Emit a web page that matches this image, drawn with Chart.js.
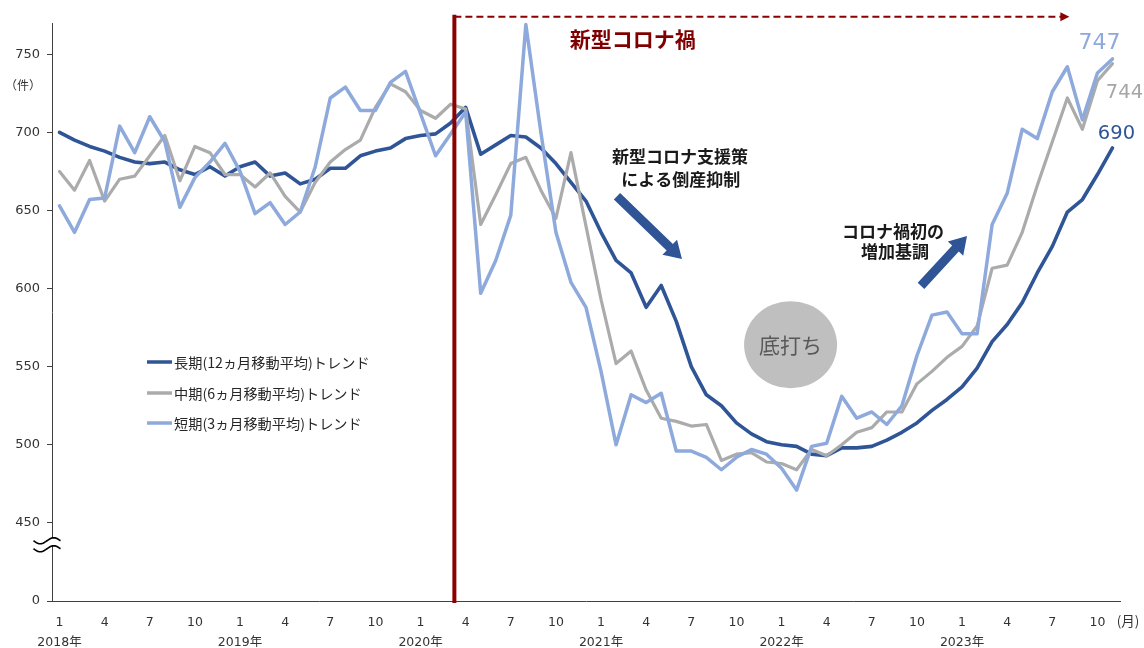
<!DOCTYPE html>
<html><head><meta charset="utf-8">
<script src="https://cdn.jsdelivr.net/npm/chart.js@4.4.0/dist/chart.umd.min.js"></script>
<style>html,body{margin:0;padding:0;background:#fff}#wrap{width:1144px;height:648px;position:relative}</style>
</head><body><div id="wrap"><canvas id="c" width="1144" height="648"></canvas></div>
<script>
// ---- categories: months from 2018-01 to 2023-11 ----
const firstYear = 2018;
const monthCount = 71;
const months = [];
for (let i = 0; i < monthCount; i++) {
  const yr = firstYear + Math.floor(i / 12), m = (i % 12) + 1;
  months.push(yr + '-' + String(m).padStart(2, '0'));
}
const shownMonths = [1, 4, 7, 10];

// ---- series values (件) ----
const longTrend = [700,695,691,688,684,681,680,681,676,673,678,672,678,681,672,674,667,670,677,677,685,688,690,696,698,699,706,716,686,692,698,697,690,680,668,656,636,618,610,588,602,579,550,532,525,514,507,502,500,499,494,493,498,498,499,503,508,514,522,529,537,549,566,577,591,610,627,649,657,673,690];
const midTrend = [675,663,682,656,670,672,685,698,669,691,687,673,673,665,674,659,649,668,681,689,695,716,731,726,714,709,718,715,641,660,680,684,663,645,687,640,593,552,560,535,517,515,512,513,490,494,495,489,488,484,497,493,500,508,511,521,521,539,547,556,563,576,613,615,636,666,694,722,702,733,744];
const shortTrend = [653,636,657,658,704,687,710,694,652,671,681,693,675,648,655,641,649,678,722,729,714,714,732,739,712,685,699,713,597,618,647,769,700,636,604,588,547,500,532,527,533,496,496,492,484,492,497,494,485,471,499,501,531,517,521,513,525,557,583,585,571,571,641,661,702,696,726,742,708,738,747];

const seriesNames = ['長期(12ヵ月移動平均)トレンド', '中期(6ヵ月移動平均)トレンド', '短期(3ヵ月移動平均)トレンド'];
const seriesColors = ['#2F5597', '#ABABAB', '#8EA9DB'];
const endLabels = ['690', '744', '747'];

// ---- y axis (broken: 0 is drawn one step below 450) ----
const yTickValues = [400, 450, 500, 550, 600, 650, 700, 750];
const yTickLabels = ['0', '450', '500', '550', '600', '650', '700', '750'];
const yMin = 400, yMax = 770;

// ---- annotations (in month-index / value coordinates) ----
const covidLineAt = 26.25;
const covidArrowEnd = 67.0;
const covidTop = 774;
const covidLabel = '新型コロナ禍';
const supportText = ['新型コロナ支援策', 'による倒産抑制'];
const riseText = ['コロナ禍初の', '増加基調'];
const bottomText = '底打ち';

const FONT_NUM = "'DejaVu Sans', 'Noto Sans CJK JP', sans-serif";
const FONT_JP = "'Noto Sans CJK JP', 'Noto Sans', sans-serif";

function blockArrow(ctx, x1, y1, x2, y2, shaft, headW, headL, color) {
  const a = Math.atan2(y2 - y1, x2 - x1);
  const len = Math.hypot(x2 - x1, y2 - y1);
  ctx.save();
  ctx.translate(x1, y1); ctx.rotate(a);
  ctx.fillStyle = color;
  ctx.beginPath();
  ctx.moveTo(0, -shaft / 2);
  ctx.lineTo(len - headL, -shaft / 2);
  ctx.lineTo(len - headL, -headW / 2);
  ctx.lineTo(len, 0);
  ctx.lineTo(len - headL, headW / 2);
  ctx.lineTo(len - headL, shaft / 2);
  ctx.lineTo(0, shaft / 2);
  ctx.closePath(); ctx.fill();
  ctx.restore();
}

const decor = {
  id: 'decor',
  afterDatasetsDraw(chart) {
    const {ctx, chartArea: ca, scales: {x, y}} = chart;
    const X = v => x.getPixelForValue(v), Y = v => y.getPixelForValue(v);
    ctx.save();

    // 底打ち circle
    ctx.fillStyle = '#BFBFBF';
    ctx.beginPath();
    ctx.ellipse(X(48.6), Y(564), 46.5, 43.5, 0, 0, Math.PI * 2);
    ctx.fill();
    ctx.fillStyle = '#595959';
    ctx.font = '21px ' + FONT_JP;
    ctx.textAlign = 'center'; ctx.textBaseline = 'middle';
    ctx.fillText(bottomText, X(48.6), Y(564));

    // covid vertical line + dashed arrow
    const cx = X(covidLineAt), ct = Y(covidTop);
    ctx.strokeStyle = '#8B0000';
    ctx.lineWidth = 4;
    ctx.beginPath(); ctx.moveTo(cx, ct - 2); ctx.lineTo(cx, ca.bottom + 2); ctx.stroke();
    ctx.lineWidth = 2;
    ctx.setLineDash([7, 4]);
    const ax = X(covidArrowEnd);
    ctx.beginPath(); ctx.moveTo(cx, ct); ctx.lineTo(ax - 6, ct); ctx.stroke();
    ctx.setLineDash([]);
    ctx.fillStyle = '#8B0000';
    ctx.beginPath(); ctx.moveTo(ax + 2, ct); ctx.lineTo(ax - 7, ct - 4.5); ctx.lineTo(ax - 7, ct + 4.5); ctx.closePath(); ctx.fill();
    ctx.font = 'bold 21px ' + FONT_JP;
    ctx.fillStyle = '#7F0000';
    ctx.fillText(covidLabel, X(38.1), Y(759.5));

    // annotation texts
    ctx.fillStyle = '#1a1a1a';
    ctx.font = 'bold 17px ' + FONT_JP;
    ctx.fillText(supportText[0], X(41.25), Y(684.2));
    ctx.fillText(supportText[1], X(41.3), Y(670.1));
    ctx.fillText(riseText[0], X(55.41), Y(636.8));
    ctx.fillText(riseText[1], X(55.54), Y(623.5));

    // arrows
    blockArrow(ctx, X(37.06), Y(659.1), X(41.38), Y(618.9), 9, 21, 17, '#2F5597');
    blockArrow(ctx, X(57.27), Y(601.7), X(60.33), Y(633.6), 9, 21, 17, '#2F5597');

    // end labels
    const n = monthCount - 1;
    const ends = [
      {v: longTrend[n], dx: 4, dy: -14, size: 19.5, c: seriesColors[0], t: endLabels[0]},
      {v: midTrend[n], dx: 12, dy: 29, size: 19.5, c: '#A6A6A6', t: endLabels[1]},
      {v: shortTrend[n], dx: -13, dy: -16, size: 22, c: seriesColors[2], t: endLabels[2]}
    ];
    ends.forEach(e => {
      ctx.font = e.size + 'px ' + FONT_NUM;
      ctx.fillStyle = e.c;
      ctx.fillText(e.t, X(n) + e.dx, Y(e.v) + e.dy);
    });

    // legend
    ctx.textAlign = 'left';
    ctx.font = '14.2px ' + FONT_JP;
    const legY = [362, 393, 423];
    seriesNames.forEach((nm, i) => {
      ctx.strokeStyle = seriesColors[i];
      ctx.lineWidth = 3.5;
      ctx.beginPath(); ctx.moveTo(ca.left + 95, legY[i]); ctx.lineTo(ca.left + 120, legY[i]); ctx.stroke();
      ctx.fillStyle = '#262626';
      ctx.fillText(nm, ca.left + 122, legY[i] + 1);
    });

    // units
    ctx.fillStyle = '#333';
    ctx.font = '12px ' + FONT_JP;
    ctx.textAlign = 'center';
    ctx.fillText('（件）', 23, Y(730));
    ctx.font = '13.5px ' + FONT_JP;
    ctx.fillText('(月)', 1128, 621);

    // axis break symbol
    const bx = ca.left - 5, by = Y(436);
    const wave = (off) => {
      const pts = [];
      for (let k = 0; k <= 20; k++) {
        const t = -1 + k / 10;
        pts.push([bx + t * 13.5, by + off - 3 * Math.sin(Math.PI * t)]);
      }
      return pts;
    };
    const w1 = wave(-4), w2 = wave(4);
    ctx.fillStyle = '#fff';
    ctx.beginPath();
    w1.forEach((p, i) => i ? ctx.lineTo(p[0], p[1]) : ctx.moveTo(p[0], p[1]));
    w2.slice().reverse().forEach(p => ctx.lineTo(p[0], p[1]));
    ctx.closePath(); ctx.fill();
    ctx.strokeStyle = '#000'; ctx.lineWidth = 1.6;
    [w1, w2].forEach(w => {
      ctx.beginPath();
      w.forEach((p, i) => i ? ctx.lineTo(p[0], p[1]) : ctx.moveTo(p[0], p[1]));
      ctx.stroke();
    });
    ctx.restore();
  }
};

const mk = (label, data, color, order, width) => ({
  label, data, borderColor: color, backgroundColor: color, borderWidth: width,
  pointRadius: 0, tension: 0, order, clip: false, borderJoinStyle: 'round', borderCapStyle: 'round'
});

new Chart(document.getElementById('c'), {
  type: 'line',
  data: {
    labels: months,
    datasets: [
      mk(seriesNames[0], longTrend, seriesColors[0], 2, 3.6),
      mk(seriesNames[1], midTrend, seriesColors[1], 1, 3.2),
      mk(seriesNames[2], shortTrend, seriesColors[2], 0, 3.5)
    ]
  },
  options: {
    responsive: false, animation: false, devicePixelRatio: 1,
    layout: {padding: {left: 0, right: 24, top: 23, bottom: 0}},
    plugins: {legend: {display: false}, tooltip: {enabled: false}, title: {display: false}},
    scales: {
      x: {
        type: 'category', offset: true,
        grid: {display: false, drawTicks: false},
        border: {display: true, color: '#404040', width: 1},
        ticks: {
          autoSkip: false, maxRotation: 0, minRotation: 0, padding: 12,
          color: '#333', font: {family: FONT_NUM, size: 12.5, lineHeight: 1.6},
          callback: (v, i) => {
            const [yr, mm] = months[i].split('-');
            const m = parseInt(mm, 10);
            if (!shownMonths.includes(m)) return null;
            return m === 1 ? ['1', yr + '年'] : String(m);
          }
        },
        afterFit: s => { s.height = 47; }
      },
      y: {
        min: yMin, max: yMax,
        afterBuildTicks: s => { s.ticks = yTickValues.map(v => ({value: v})); },
        grid: {display: true, drawOnChartArea: false, drawTicks: true, tickLength: 5, color: '#404040'},
        border: {display: true, color: '#404040', width: 1},
        ticks: {
          padding: 7, color: '#333', font: {family: FONT_NUM, size: 13},
          callback: v => yTickLabels[yTickValues.indexOf(v)]
        },
        afterFit: s => { s.width = 52; }
      }
    }
  },
  plugins: [decor]
});
</script>
</body></html>
